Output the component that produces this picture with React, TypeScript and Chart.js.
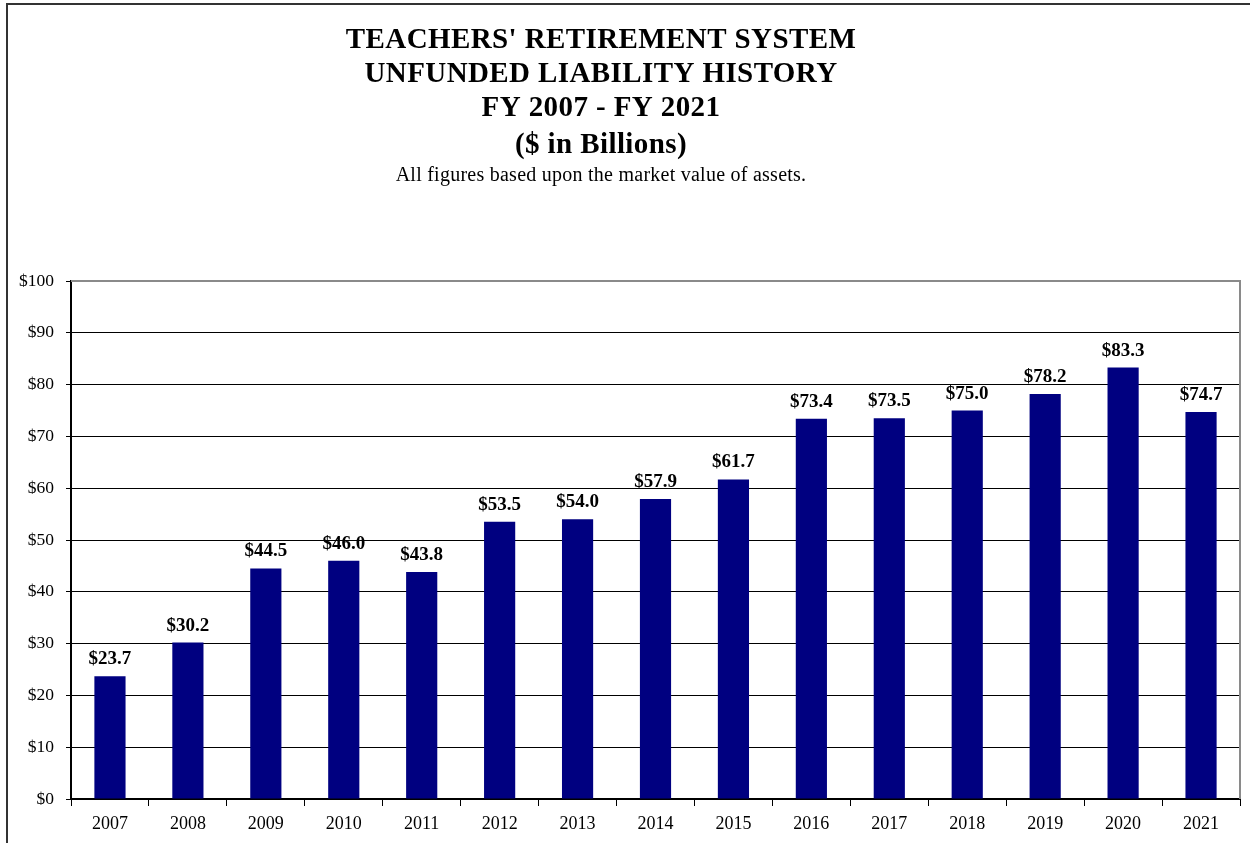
import React, { useEffect, useRef } from "react";
import { Chart, registerables } from "chart.js";

Chart.register(...registerables);

const titleLines = [
  "TEACHERS' RETIREMENT SYSTEM",
  "UNFUNDED LIABILITY HISTORY",
  "FY 2007 - FY 2021",
  "($ in Billions)",
];
const subtitleText = "All figures based upon the market value of assets.";
const years = ["2007", "2008", "2009", "2010", "2011", "2012", "2013", "2014", "2015", "2016", "2017", "2018", "2019", "2020", "2021"];
const liability = [23.7, 30.2, 44.5, 46.0, 43.8, 53.5, 54.0, 57.9, 61.7, 73.4, 73.5, 75.0, 78.2, 83.3, 74.7];

const SERIF = "'Liberation Serif', 'Times New Roman', serif";

const titlePlugin = {
  id: "titleBlock",
  afterDraw(chart: any) {
    const ctx = chart.ctx;
    const cx = 601;
    const baselines = [48, 82, 116, 153];
    ctx.save();
    ctx.fillStyle = "#000";
    ctx.textAlign = "center";
    ctx.textBaseline = "alphabetic";
    ctx.font = `bold 29px ${SERIF}`;
    (ctx as any).letterSpacing = "0.4px";
    titleLines.forEach((line, i) => ctx.fillText(line, cx, baselines[i]));
    ctx.font = `20px ${SERIF}`;
    (ctx as any).letterSpacing = "0.25px";
    ctx.fillText(subtitleText, cx, 181);
    ctx.restore();
  },
};

const labelPlugin = {
  id: "barLabels",
  afterDatasetsDraw(chart: any) {
    const ctx = chart.ctx;
    const meta = chart.getDatasetMeta(0);
    ctx.save();
    ctx.font = `bold 19px ${SERIF}`;
    ctx.fillStyle = "#000";
    ctx.textAlign = "center";
    ctx.textBaseline = "alphabetic";
    meta.data.forEach((bar: any, i: number) => {
      ctx.fillText("$" + liability[i].toFixed(1), bar.x, bar.y - 12);
    });
    ctx.restore();
  },
  afterDraw(chart: any) {
    const { ctx, chartArea } = chart;
    ctx.save();
    ctx.strokeStyle = "#8a8a8a";
    ctx.lineWidth = 2;
    ctx.beginPath();
    ctx.moveTo(chartArea.left, chartArea.top);
    ctx.lineTo(chartArea.right, chartArea.top);
    ctx.lineTo(chartArea.right, chartArea.bottom);
    ctx.stroke();
    ctx.restore();
  },
};

export default function App() {
  const ref = useRef<HTMLCanvasElement | null>(null);
  useEffect(() => {
    if (!ref.current) return;
    const chart = new Chart(ref.current, {
      type: "bar",
      data: {
        labels: years,
        datasets: [
          {
            data: liability,
            backgroundColor: "#000080",
            borderWidth: 0,
            categoryPercentage: 1,
            barPercentage: 0.4,
          },
        ],
      },
      options: {
        responsive: false,
        animation: false,
        layout: { padding: { left: 0, right: 10, top: 281, bottom: 1 } },
        plugins: {
          legend: { display: false },
          tooltip: { enabled: false },
          title: { display: false },
        },
        scales: {
          x: {
            grid: {
              offset: true,
              drawOnChartArea: false,
              tickLength: 7,
              tickColor: "#000",
              tickWidth: 1,
            },
            border: { color: "#000", width: 2 },
            ticks: {
              color: "#000",
              font: { family: SERIF, size: 18, lineHeight: 1 },
              padding: 9,
              maxRotation: 0,
            },
          },
          y: {
            min: 0,
            max: 100,
            grid: {
              color: "#000",
              lineWidth: 1,
              borderDash: [1, 1],
              tickLength: 5,
              tickColor: "#000",
              tickWidth: 1,
              tickBorderDash: [],
            },
            border: { color: "#000", width: 2, dash: [] },
            ticks: {
              stepSize: 10,
              color: "#000",
              font: { family: SERIF, size: 17.5 },
              padding: 12,
              callback: (v: any) => "$" + v,
            },
            afterFit: (s: any) => {
              s.width = 71;
            },
          },
        },
      },
      plugins: [labelPlugin, titlePlugin],
    });
    return () => chart.destroy();
  }, []);

  return (
    <div style={{ position: "fixed", left: 0, top: 0, width: 1250, height: 843, background: "#fff", overflow: "hidden" }}>
      <div
        style={{
          position: "absolute",
          left: 6,
          top: 3,
          width: 1400,
          height: 1000,
          borderLeft: "2px solid #333",
          borderTop: "2px solid #333",
        }}
      />
      <canvas ref={ref} width={1250} height={843} style={{ position: "absolute", left: 0, top: 0 }} />
    </div>
  );
}
